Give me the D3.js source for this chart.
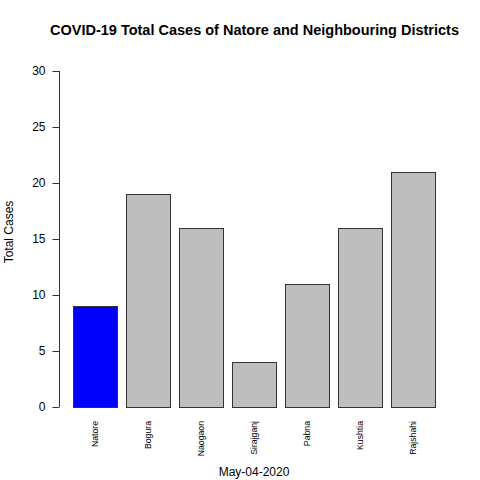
<!DOCTYPE html>
<html>
<head>
<meta charset="utf-8">
<script src="https://cdn.jsdelivr.net/npm/d3@7"></script>
<style>
  body { margin: 0; background: #fff; }
  text { font-family: "Liberation Sans", Arial, sans-serif; }
</style>
</head>
<body>
<div id="chart"></div>
<script>
var width = 480,
    height = 480;

var districts = ["Natore", "Bogura", "Naogaon", "Sirajganj", "Pabna", "Kushtia", "Rajshahi"];
var totalCases = [9, 19, 16, 4, 11, 16, 21];
var barColors = ["#0000ff", "#bebebe", "#bebebe", "#bebebe", "#bebebe", "#bebebe", "#bebebe"];
var yTicks = [0, 5, 10, 15, 20, 25, 30];

var svg = d3.select("#chart")
    .append("svg")
    .attr("width", width)
    .attr("height", height);

// R barplot: width 1, space 0.2 -> step 53px, bar 44px
var x = d3.scaleBand()
    .domain(districts)
    .range([64, 444])
    .paddingInner(9 / 53)
    .paddingOuter(9 / 53);

var y = d3.scaleLinear()
    .domain([0, 30])
    .range([407, 71]);

/* bars */
svg.append("g")
    .selectAll("rect")
    .data(districts)
    .enter().append("rect")
    .attr("x", function(d) { return Math.round(x(d)) + 0.5; })
    .attr("y", function(d, i) { return Math.round(y(totalCases[i])) + 0.5; })
    .attr("width", Math.round(x.bandwidth()))
    .attr("height", function(d, i) { return Math.round(y(0)) - Math.round(y(totalCases[i])); })
    .style("fill", function(d, i) { return barColors[i]; })
    .style("stroke", "#333")
    .style("stroke-width", 1);

/* y axis */
var yAxis = d3.axisLeft(y)
    .tickValues(yTicks)
    .tickSize(7)
    .tickPadding(7);

var ag = svg.append("g")
    .attr("transform", "translate(59.5,0)")
    .call(yAxis);
ag.select(".domain").attr("d", "M0," + y(30) + "V" + y(0)).style("stroke", "#333");
ag.selectAll(".tick line").style("stroke", "#333");
ag.selectAll(".tick text")
    .style("font-size", "12px")
    .style("fill", "#000")
    .style("font-family", "'Liberation Sans', Arial, sans-serif");

/* district labels (vertical) */
svg.append("g")
    .selectAll("text")
    .data(districts)
    .enter().append("text")
    .attr("transform", function(d) {
        return "translate(" + (x(d) + x.bandwidth() / 2 + 3) + ",421) rotate(-90)";
    })
    .attr("text-anchor", "end")
    .style("font-size", "8.7px")
    .text(function(d) { return d; });

/* title */
svg.append("text")
    .attr("x", 254.5)
    .attr("y", 35)
    .attr("text-anchor", "middle")
    .style("font-size", "14.5px")
    .style("font-weight", "bold")
    .text("COVID-19 Total Cases of Natore and Neighbouring Districts");

/* axis titles */
svg.append("text")
    .attr("x", 254)
    .attr("y", 476)
    .attr("text-anchor", "middle")
    .style("font-size", "12px")
    .text("May-04-2020");

svg.append("text")
    .attr("transform", "translate(13,232) rotate(-90)")
    .attr("text-anchor", "middle")
    .style("font-size", "12px")
    .text("Total Cases");
</script>
</body>
</html>
